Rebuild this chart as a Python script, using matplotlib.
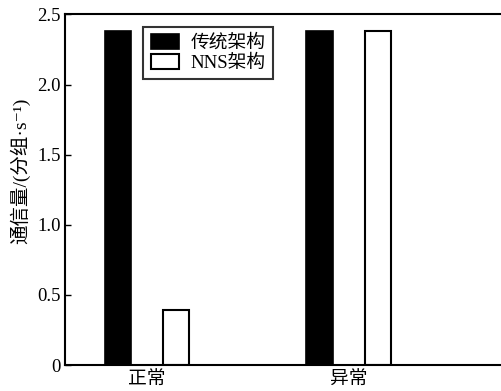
import matplotlib.pyplot as plt
import numpy as np

plt.rcParams['font.family'] = ['Liberation Serif', 'Noto Sans CJK SC', 'DejaVu Sans']

categories = ['正常', '异常']
traditional = [2.38, 2.38]
nns = [0.39, 2.38]
series_names = ['传统架构', 'NNS架构']

fig = plt.figure(figsize=(5.01, 3.91), dpi=100)
ax = fig.add_axes([65 / 501, 1 - 365 / 391, 445 / 501, 350.5 / 391])

x = np.arange(len(categories))
w = 0.13
ax.bar(x - 0.145, traditional, w, color='black', edgecolor='black', linewidth=1.2, label=series_names[0])
ax.bar(x + 0.145, nns, w, color='white', edgecolor='black', linewidth=1.5, label=series_names[1])

ax.set_xlim(-0.407, 1.80)
ax.set_ylim(0, 2.5)
ax.set_yticks([0, 0.5, 1.0, 1.5, 2.0, 2.5])
ax.set_yticklabels(['0', '0.5', '1.0', '1.5', '2.0', '2.5'], fontsize=13.5)
ax.set_xticks(x)
ax.set_xticklabels(categories, fontsize=13.5)
ax.tick_params(axis='x', length=0, pad=5)
ax.tick_params(axis='y', direction='in', length=4, width=1, pad=3)
ax.spines['right'].set_visible(False)
for s in ['left', 'bottom', 'top']:
    ax.spines[s].set_linewidth(1.5)

ax.set_ylabel('通信量/(分组·s⁻¹)', fontsize=14)
ax.yaxis.set_label_coords(-0.079, 0.555)

leg = ax.legend(loc='upper left', bbox_to_anchor=(0.176, 0.965), fontsize=13.5,
                frameon=True, fancybox=False, edgecolor='black',
                handlelength=1.5, handleheight=0.8, handletextpad=0.6,
                borderpad=0.4, labelspacing=0.12, borderaxespad=0)
leg.get_frame().set_linewidth(1.5)

fig.savefig('out.png', dpi=100)
